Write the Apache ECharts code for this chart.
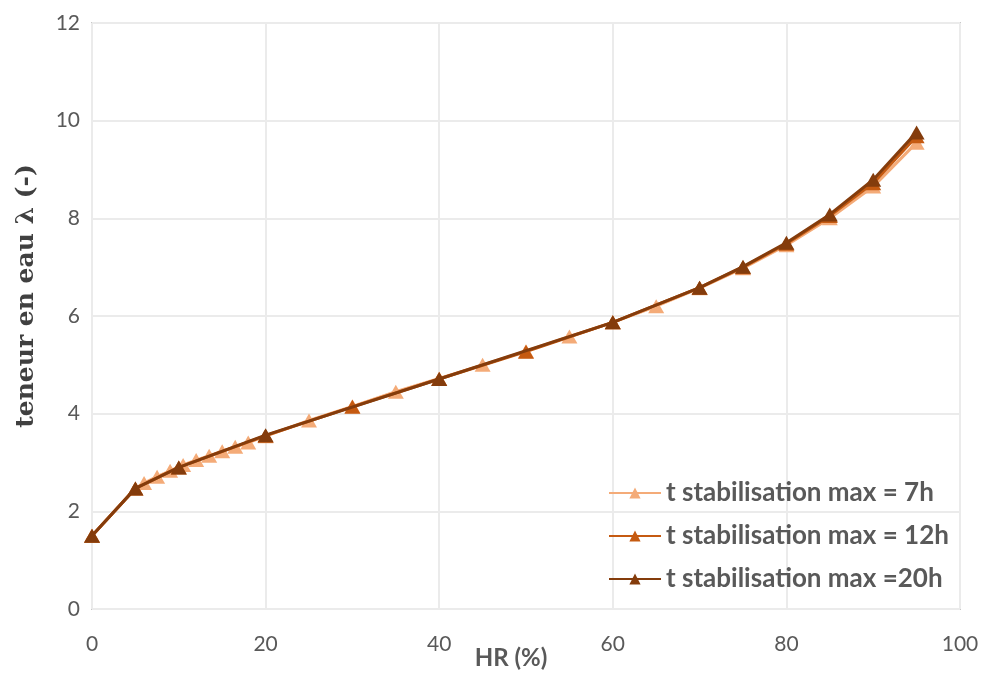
<!DOCTYPE html>
<html>
<head>
<meta charset="utf-8">
<script src="https://cdn.jsdelivr.net/npm/echarts@6/dist/echarts.min.js"></script>
<style>html,body{margin:0;padding:0;background:#fff}#c{width:982px;height:675px}</style>
</head>
<body>
<div id="c"></div>
<script>
const seriesNames = ['t stabilisation max = 7h', 't stabilisation max = 12h', 't stabilisation max =20h'];
const hr7 = [0, 5, 6, 7.5, 9, 10.5, 12, 13.5, 15, 16.5, 18, 20, 25, 30, 35, 40, 45, 50, 55, 60, 65, 70, 75, 80, 85, 90, 95];
const val7 = [1.5, 2.47, 2.58, 2.71, 2.83, 2.95, 3.05, 3.14, 3.23, 3.32, 3.41, 3.54, 3.86, 4.15, 4.45, 4.72, 5.0, 5.28, 5.58, 5.87, 6.2, 6.57, 6.98, 7.45, 8.0, 8.65, 9.55];
const hr12 = [0, 5, 10, 20, 30, 40, 50, 60, 70, 75, 80, 85, 90, 95];
const val12 = [1.5, 2.47, 2.9, 3.55, 4.14, 4.71, 5.27, 5.87, 6.58, 7.0, 7.48, 8.05, 8.72, 9.68];
const hr20 = [0, 5, 10, 20, 40, 60, 70, 75, 80, 85, 90, 95];
const val20 = [1.5, 2.47, 2.9, 3.56, 4.71, 5.87, 6.58, 7.01, 7.5, 8.08, 8.79, 9.76];
const colors = ['#F4AB78', '#C55A11', '#843C0C'];

function pairs(xs, ys) { return xs.map((x, i) => [x, ys[i]]); }
const datasets = [pairs(hr7, val7), pairs(hr12, val12), pairs(hr20, val20)];

const chart = echarts.init(document.getElementById('c'), null, {renderer: 'canvas'});
const labelFont = 'Lato, "Open Sans", sans-serif';
chart.setOption({
  animation: false,
  backgroundColor: '#ffffff',
  grid: {left: 92, right: 22, top: 23, bottom: 66, show: true, borderColor: '#C8C8C8', borderWidth: 2,
         containLabel: false, outerBoundsMode: 'none'},
  xAxis: {
    type: 'value', min: 0, max: 100, interval: 20,
    name: 'HR (%)', nameLocation: 'middle', nameGap: 37, nameMoveOverlap: false,
    nameTextStyle: {fontFamily: labelFont, fontWeight: 'bold', fontSize: 24, color: '#595959', padding: [0, 30, 0, 0]},
    axisLine: {show: false}, axisTick: {show: false},
    axisLabel: {fontFamily: labelFont, fontSize: 21, color: '#595959', margin: 25},
    splitLine: {show: true, lineStyle: {color: '#EBEBEB', width: 2}}
  },
  yAxis: {
    type: 'value', min: 0, max: 12, interval: 2,
    name: 'teneur en eau λ (-)', nameLocation: 'middle', nameGap: 53, nameMoveOverlap: false,
    nameTextStyle: {fontFamily: '"DejaVu Serif", "Liberation Serif", serif', fontWeight: 'bold', fontSize: 25, color: '#404040',
                    padding: [0, 0, 0, 40]},
    axisLine: {show: false}, axisTick: {show: false},
    axisLabel: {fontFamily: labelFont, fontSize: 21, color: '#595959', margin: 12},
    splitLine: {show: true, lineStyle: {color: '#EBEBEB', width: 2}}
  },
  legend: {
    orient: 'vertical', left: 603, top: 475, itemGap: 17,
    itemWidth: 52, itemHeight: 14,
    textStyle: {fontFamily: labelFont, fontWeight: 'bold', fontSize: 26, color: '#595959'},
    data: seriesNames
  },
  series: datasets.map((d, i) => ({
    name: seriesNames[i], type: 'line', data: d,
    symbol: 'triangle', symbolSize: [16, 14],
    itemStyle: {color: colors[i]},
    lineStyle: {color: colors[i], width: 3},
    z: 2 + i
  }))
});
</script>
</body>
</html>
